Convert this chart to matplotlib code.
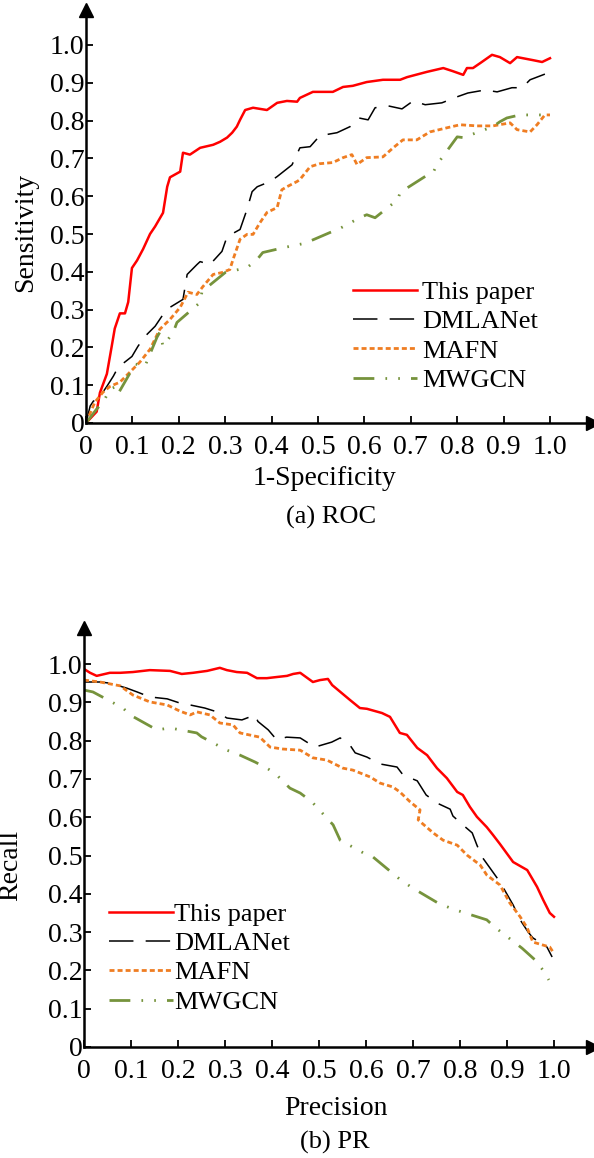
import matplotlib
matplotlib.use("Agg")
import matplotlib.pyplot as plt

plt.rcParams['font.family'] = ['Liberation Serif', 'DejaVu Serif']

# ROC curves: (1-specificity, sensitivity)
roc_paper_x = [0, .023, .03, .045, .055, .062, .073, .084, .091, .099, .11, .123, .138, .149, .166, .175, .181, .203, .209, .224,
               .246, .274, .289, .304, .315, .325, .332, .343, .36, .39, .412, .433, .455, .461, .489, .532, .554, .575, .605, .64,
               .677, .692, .735, .77, .79, .813, .821, .834, .853, .875, .892, .914, .929, .963, .983, 1.0]
roc_paper_y = [0, .03, .08, .13, .2, .25, .29, .29, .32, .41, .43, .46, .5, .52, .556, .625, .65, .665, .715, .71,
               .728, .736, .744, .755, .768, .784, .802, .828, .834, .828, .847, .852, .85, .86, .876, .876, .889, .892, .902, .908,
               .908, .915, .929, .939, .931, .921, .939, .939, .955, .974, .968, .952, .968, .96, .955, .965]

roc_dmla_x = [0, .009, .016, .026, .045, .059, .069, .099, .112, .127, .149, .166, .181, .209, .218, .239, .246, .267, .293, .304,
              .332, .347, .358, .369, .397, .412, .444, .461, .483, .504, .541, .569, .588, .608, .623, .651, .681, .705, .731, .767,
              .8, .823, .86, .886, .918, .94, .957, .989]
roc_dmla_y = [0, .045, .058, .063, .097, .124, .147, .176, .203, .229, .256, .287, .306, .327, .393, .419, .427, .419, .454, .493,
              .512, .565, .612, .625, .639, .652, .683, .728, .731, .76, .768, .784, .807, .802, .834, .839, .831, .852, .842, .847,
              .863, .873, .881, .876, .887, .887, .908, .923]

roc_mafn_x = [0, .019, .037, .052, .073, .095, .116, .138, .159, .181, .203, .22, .239, .252, .274, .293, .31, .317, .332, .347,
              .36, .375, .39, .412, .422, .433, .455, .461, .483, .504, .532, .554, .573, .584, .605, .64, .662, .683, .713, .741,
              .778, .806, .843, .877, .914, .929, .957, .972, .989, 1.0]
roc_mafn_y = [0, .055, .082, .097, .108, .135, .161, .195, .248, .274, .306, .346, .34, .361, .393, .398, .406, .433, .486, .499,
              .499, .53, .557, .57, .617, .625, .639, .644, .678, .686, .689, .702, .71, .684, .702, .704, .728, .749, .749, .77,
              .781, .789, .786, .786, .794, .776, .77, .789, .815, .815]

roc_mwgcn_x = [0, .023, .037, .052, .062, .069, .106, .127, .153, .159, .166, .188, .196, .246, .25, .282, .3, .347, .369, .381,
               .43, .47, .49, .526, .543, .59, .605, .623, .672, .677, .737, .748, .756, .8, .813, .877, .892, .907, .935, .989, 1.0]
roc_mwgcn_y = [0, .037, .055, .09, .095, .077, .156, .15, .227, .24, .203, .24, .266, .319, .348, .38, .398, .411, .433, .451,
               .465, .475, .485, .504, .512, .543, .551, .543, .591, .61, .657, .662, .683, .757, .755, .784, .797, .807, .815, .815, .81]

# PR curves: (precision, recall)
pr_paper_x = [0, .013, .027, .055, .077, .104, .14, .183, .208, .232, .262, .289, .304, .325, .347, .368, .389, .41, .432, .445,
              .46, .487, .502, .519, .528, .566, .587, .602, .634, .651, .672, .687, .709, .73, .751, .772, .794, .806, .821, .836,
              .857, .87, .885, .913, .943, .964, .977, .991, 1.0]
pr_paper_y = [.987, .977, .969, .977, .977, .979, .984, .982, .974, .977, .982, .99, .984, .979, .977, .963, .963, .966, .969, .974,
              .977, .953, .958, .961, .945, .906, .885, .883, .872, .862, .82, .815, .781, .762, .728, .702, .666, .658, .627, .601,
              .574, .554, .53, .483, .462, .418, .384, .35, .34]

pr_dmla_x = [0, .034, .055, .091, .113, .14, .177, .204, .226, .257, .283, .304, .336, .364, .37, .392, .41, .431, .46, .491,
             .527, .545, .566, .577, .602, .63, .666, .679, .709, .728, .751, .779, .785, .806, .826, .836, .847, .864, .885, .913,
             .928, .945, .955, .985, .996]
pr_dmla_y = [.953, .953, .95, .937, .927, .914, .909, .898, .893, .885, .875, .859, .854, .867, .85, .828, .802, .809, .807, .783,
             .796, .807, .788, .768, .757, .739, .731, .71, .695, .658, .637, .621, .603, .58, .559, .527, .496, .467, .431, .371,
             .332, .3, .285, .261, .235]

pr_mafn_x = [0, .034, .077, .104, .14, .177, .204, .226, .24, .268, .289, .317, .332, .374, .396, .423, .46, .487, .517, .551,
             .572, .609, .63, .657, .672, .694, .715, .711, .743, .764, .794, .815, .843, .857, .885, .906, .928, .943, .955, .977,
             .991, .998]
pr_mafn_y = [.958, .953, .943, .919, .901, .893, .877, .867, .875, .867, .846, .841, .82, .809, .783, .778, .775, .755, .749, .728,
             .723, .705, .689, .679, .666, .64, .619, .593, .559, .54, .527, .501, .475, .449, .423, .376, .34, .311, .274, .266,
             .261, .248]

pr_mwgcn_x = [0, .019, .083, .098, .155, .183, .24, .25, .304, .332, .364, .389, .406, .438, .46, .485, .53, .545, .594, .615,
              .672, .698, .753, .785, .857, .874, .932, .96, .977, .989]
pr_mwgcn_y = [.932, .927, .885, .867, .828, .833, .82, .81, .775, .762, .744, .728, .715, .676, .663, .64, .58, .54, .507, .496,
              .438, .416, .376, .36, .332, .313, .258, .227, .2, .175]

names = ["This paper", "DMLANet", "MAFN", "MWGCN"]
ticks = [0, .1, .2, .3, .4, .5, .6, .7, .8, .9, 1.0]
tick_labels = ["0", "0.1", "0.2", "0.3", "0.4", "0.5", "0.6", "0.7", "0.8", "0.9", "1.0"]

styles = [
    dict(color="#ff0000", lw=1.8, linestyle="-"),
    dict(color="black", lw=1.1, linestyle=(0, (16, 8))),
    dict(color="#ef7d22", lw=2.0, linestyle=(0, (1.8, 1.1))),
    dict(color="#76933c", lw=2.0, linestyle=(0, (7.5, 4, 0.6, 4, 0.6, 4))),
]

FS = 20      # ticks and axis labels
FS_LEG = 19  # legend and captions


def setup_axes(ax, xmax, ymax):
    ax.set_xlim(0, xmax)
    ax.set_ylim(0, ymax)
    for s in ["top", "right"]:
        ax.spines[s].set_visible(False)
    for s in ["left", "bottom"]:
        ax.spines[s].set_linewidth(1.8)
    ax.set_xticks(ticks)
    ax.set_xticklabels(tick_labels)
    ax.set_yticks(ticks)
    ax.set_yticklabels(tick_labels)
    ax.tick_params(direction="in", length=5, width=1.3, labelsize=FS)
    ax.tick_params(axis="x", pad=9)
    ax.tick_params(axis="y", pad=1)
    # arrow heads at the end of the axes
    ax.plot(1, 0, ">k", markersize=10, transform=ax.transAxes, clip_on=False)
    ax.plot(0, 1, "^k", markersize=10, transform=ax.transAxes, clip_on=False)


fig = plt.figure(figsize=(5.94, 11.58), dpi=100)

# (a) ROC
ax1 = fig.add_axes([86 / 594, 1 - 423 / 1158, 507 / 594, 413 / 1158])
setup_axes(ax1, 507 / 464, 413 / 378)
for xs, ys, st, nm in zip([roc_paper_x, roc_dmla_x, roc_mafn_x, roc_mwgcn_x],
                          [roc_paper_y, roc_dmla_y, roc_mafn_y, roc_mwgcn_y], styles, names):
    ax1.plot(xs, ys, label=nm, **st)
ax1.set_xlabel("1-Specificity", fontsize=FS)
ax1.xaxis.set_label_coords(0.471, -0.105)
ax1.set_ylabel("Sensitivity", fontsize=FS)
ax1.yaxis.set_label_coords(-0.095, 0.462)
ax1.legend(loc="upper left", bbox_to_anchor=(0.527, 0.345), frameon=False, fontsize=FS_LEG,
           handlelength=2.4, handletextpad=0.2, labelspacing=0.22, borderpad=0, borderaxespad=0)
fig.text(331 / 594, 1 - 517 / 1158, "(a) ROC", fontsize=FS_LEG, ha="center", va="center")

# (b) PR
ax2 = fig.add_axes([84 / 594, 1 - 1047 / 1158, 509 / 594, 419 / 1158])
setup_axes(ax2, 509 / 470, 419 / 383)
for xs, ys, st, nm in zip([pr_paper_x, pr_dmla_x, pr_mafn_x, pr_mwgcn_x],
                          [pr_paper_y, pr_dmla_y, pr_mafn_y, pr_mwgcn_y], styles, names):
    ax2.plot(xs, ys, label=nm, **st)
ax2.set_xlabel("Precision", fontsize=FS)
ax2.xaxis.set_label_coords(0.495, -0.118)
ax2.set_ylabel("Recall", fontsize=FS)
ax2.yaxis.set_label_coords(-0.12, 0.434)
ax2.legend(loc="upper left", bbox_to_anchor=(0.05, 0.345), frameon=False, fontsize=FS_LEG,
           handlelength=2.4, handletextpad=0.05, labelspacing=0.22, borderpad=0, borderaxespad=0)
fig.text(335 / 594, 1 - 1142 / 1158, "(b) PR", fontsize=FS_LEG, ha="center", va="center")

fig.savefig("out.png", dpi=100)
